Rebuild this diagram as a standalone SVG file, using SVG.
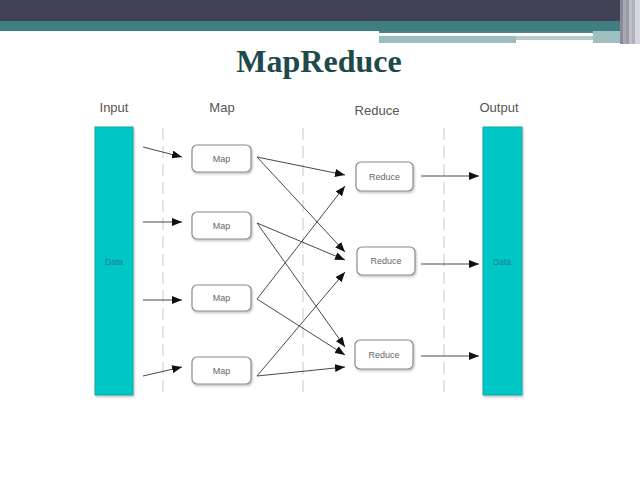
<svg xmlns="http://www.w3.org/2000/svg" width="640" height="480" viewBox="0 0 640 480">
<defs>
<marker id="ah" markerWidth="10" markerHeight="8" refX="10" refY="4" orient="auto" markerUnits="userSpaceOnUse">
<path d="M0,0 L10,4 L0,8 Z" fill="#111"/>
</marker>
<filter id="sh" x="-10%" y="-10%" width="130%" height="140%">
<feDropShadow dx="1" dy="1.5" stdDeviation="1" flood-color="#000" flood-opacity="0.25"/>
</filter>
</defs>
<style>
.hdr{font-family:"Liberation Sans",Arial,sans-serif;font-size:13px;fill:#555;text-anchor:middle}
.box{fill:#fff;stroke:#8a8a8a;stroke-width:1.2;filter:url(#sh)}
.lbl{font-family:"Liberation Sans",Arial,sans-serif;font-size:9px;fill:#666;text-anchor:middle}
.col{fill:#00c6c6;stroke:#1aa3a3;stroke-width:1;filter:url(#sh)}
.dat{font-family:"Liberation Sans",Arial,sans-serif;font-size:8.5px;fill:#1f8090;text-anchor:middle}
.dash{stroke:#dcdcdc;stroke-width:1.5;stroke-dasharray:12,6}
.c line{stroke:#333;stroke-width:0.9;marker-end:url(#ah)}
</style>
<rect x="0" y="0" width="640" height="480" fill="#fff"/>
<!-- header bars -->
<rect x="0" y="0" width="640" height="21" fill="#424257"/>
<rect x="0" y="21" width="640" height="10" fill="#3f7f80"/>
<rect x="379" y="31" width="241" height="2" fill="#4a8788"/>
<rect x="379" y="33" width="214" height="3" fill="#fff"/>
<rect x="379" y="36" width="137" height="7" fill="#9fbcbc"/>
<rect x="516" y="36" width="77" height="4" fill="#b6cdcd"/>
<rect x="593" y="31" width="27" height="12" fill="#9fc0c0"/>
<rect x="620" y="0" width="3" height="44" fill="#8a8a9a"/>
<rect x="623" y="0" width="3" height="44" fill="#a8a8b4"/>
<rect x="626" y="0" width="3" height="44" fill="#9a9aa8"/>
<rect x="629" y="0" width="3" height="44" fill="#c0c0ca"/>
<rect x="632" y="0" width="3" height="44" fill="#b0b0bc"/>
<rect x="635" y="0" width="5" height="44" fill="#d6d6de"/>
<text x="319" y="72" font-family="Liberation Serif,'Times New Roman',serif" font-size="32" font-weight="bold" fill="#1e4a4a" text-anchor="middle">MapReduce</text>
<!-- column headers -->
<text class="hdr" x="114" y="112">Input</text>
<text class="hdr" x="222" y="112">Map</text>
<text class="hdr" x="377" y="115">Reduce</text>
<text class="hdr" x="499" y="112">Output</text>
<!-- dashed separators -->
<line class="dash" x1="163" y1="128" x2="163" y2="395"/>
<line class="dash" x1="303" y1="128" x2="303" y2="395"/>
<line class="dash" x1="444" y1="128" x2="444" y2="395"/>
<g id="input">
<rect class="col" x="95" y="127" width="38" height="268"/>
<text class="dat" x="114" y="265">Data</text>
</g>
<g id="output">
<rect class="col" x="483" y="127" width="39" height="268"/>
<text class="dat" x="502" y="265">Data</text>
</g>
<g id="map1"><rect class="box" x="192" y="145" width="59" height="27" rx="5"/><text class="lbl" x="221.5" y="161.5">Map</text></g>
<g id="map2"><rect class="box" x="192" y="212" width="59" height="27" rx="5"/><text class="lbl" x="221.5" y="228.5">Map</text></g>
<g id="map3"><rect class="box" x="192" y="285" width="59" height="26" rx="5"/><text class="lbl" x="221.5" y="301">Map</text></g>
<g id="map4"><rect class="box" x="192" y="357" width="59" height="27" rx="5"/><text class="lbl" x="221.5" y="373.5">Map</text></g>
<g id="reduce1"><rect class="box" x="356" y="162" width="57" height="29" rx="5"/><text class="lbl" x="384.5" y="179.5">Reduce</text></g>
<g id="reduce2"><rect class="box" x="357" y="247" width="58" height="28" rx="5"/><text class="lbl" x="386" y="264">Reduce</text></g>
<g id="reduce3"><rect class="box" x="355" y="340" width="58" height="29" rx="5"/><text class="lbl" x="384" y="357.5">Reduce</text></g>
<g id="connectors" class="c">
<line x1="143" y1="147" x2="182" y2="157"/>
<line x1="143" y1="222" x2="182" y2="222"/>
<line x1="143" y1="300" x2="182" y2="300"/>
<line x1="143" y1="376" x2="182" y2="367"/>
<line x1="257" y1="157" x2="345" y2="175"/>
<line x1="257" y1="157" x2="345" y2="252"/>
<line x1="257" y1="223" x2="345" y2="260"/>
<line x1="257" y1="223" x2="345" y2="347"/>
<line x1="257" y1="299" x2="345" y2="186"/>
<line x1="257" y1="299" x2="345" y2="355"/>
<line x1="257" y1="376" x2="345" y2="272"/>
<line x1="257" y1="376" x2="345" y2="367"/>
<line x1="421" y1="176" x2="479" y2="176"/>
<line x1="421" y1="264" x2="479" y2="264"/>
<line x1="421" y1="356" x2="479" y2="356"/>
</g>
</svg>
